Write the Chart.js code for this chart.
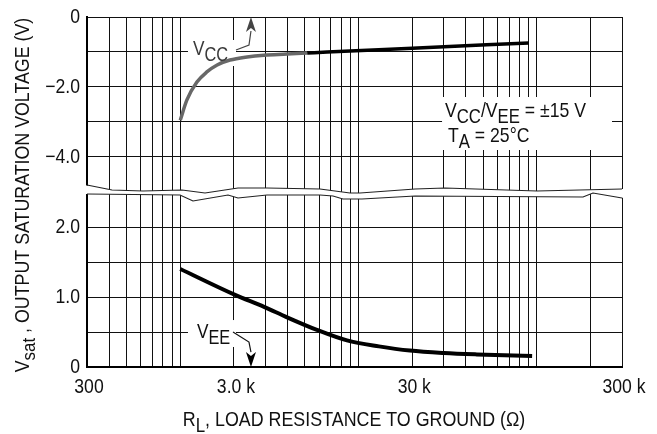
<!DOCTYPE html>
<html>
<head>
<meta charset="utf-8">
<script src="https://cdn.jsdelivr.net/npm/chart.js@4.4.1/dist/chart.umd.min.js"></script>
<style>
  html, body { margin: 0; padding: 0; background: #fff; }
  canvas { display: block; }
</style>
</head>
<body>
<canvas id="satChart" width="657" height="434"></canvas>
<script>
// values: load resistance (ohms) -> saturation voltage (V)
const vccLoad = [1000, 1090, 1240, 1410, 1610, 1900, 2370, 2950, 3970, 5150, 6660, 20000, 90000];
const vccSat  = [-2.95, -2.37, -1.86, -1.57, -1.37, -1.23, -1.14, -1.09, -1.06, -1.03, -1.0, -0.89, -0.74];
const veeLoad = [1000, 2030, 2950, 3970, 5840, 8610, 13000, 19400, 30100, 46000, 94000];
const veeSat  = [1.40, 1.03, 0.86, 0.71, 0.53, 0.38, 0.295, 0.235, 0.20, 0.18, 0.157];

// grid and tick labels
const xGrid = [300, 400, 500, 600, 700, 800, 900, 1000, 2000, 3000, 4000, 5000, 6000, 7000, 8000, 9000,
               10000, 20000, 30000, 40000, 50000, 60000, 70000, 80000, 90000, 100000, 200000, 300000];
const xTickAt   = [300, 2000, 20000, 300000];
const xTickText = ['300', '3.0 k', '30 k', '300 k'];
const topGrid     = [-4, -3, -2, -1, 0];
const topTickAt   = [0, -2, -4];
const topTickText = ['0', '\u22122.0', '\u22124.0'];
const botGrid     = [0, 0.5, 1, 1.5, 2];
const botTickAt   = [0, 1, 2];
const botTickText = ['0', '1.0', '2.0'];

const FONT = '"Liberation Sans", Arial, sans-serif';

// draws plain / subscript parts on a baseline, squeezed horizontally like the datasheet font
function rich(ctx, parts, x, y, size, sx) {
  ctx.save();
  ctx.translate(x, y);
  ctx.scale(sx, 1);
  let cx = 0;
  for (const p of parts) {
    ctx.font = (p[1] ? size * 0.95 : size) + 'px ' + FONT;
    ctx.fillText(p[0], cx, p[1] ? size * 0.3 : 0);
    cx += ctx.measureText(p[0]).width;
  }
  ctx.restore();
  return cx * sx;
}
function richWidth(ctx, parts, size, sx) {
  let w = 0;
  for (const p of parts) {
    ctx.font = (p[1] ? size * 0.95 : size) + 'px ' + FONT;
    w += ctx.measureText(p[0]).width;
  }
  return w * sx;
}

// break between the two panels (px offsets from plot left / panel seam)
const breakUpper = [[0,-5],[25,0],[56,1],[95,0],[118,3],[151,-2],[180,-2],[233,-1],[263,3],[273,3],[328,-1],[358,-2],[450,1],[535,-1]];
const breakLower = [[0,4],[93,5],[106,11],[141,5],[151,8],[180,5],[233,5],[246,6],[256,9],[275,9],[328,6],[496,7],[506,3],[535,8]];

const decor = {
  id: 'decor',
  beforeDatasetsDraw(chart) {
    const {ctx, chartArea: a, scales} = chart;
    const seam = scales.yTop.bottom;
    const L = a.left;
    ctx.save();
    ctx.fillStyle = '#fff';
    ctx.beginPath();
    breakUpper.forEach((p, i) => {
      const x = L + p[0] + (i === 0 ? -3 : 0) + (i === breakUpper.length - 1 ? 2 : 0);
      i ? ctx.lineTo(x, seam + p[1]) : ctx.moveTo(x, seam + p[1]);
    });
    for (let i = breakLower.length - 1; i >= 0; i--) {
      const p = breakLower[i];
      const x = L + p[0] + (i === 0 ? -3 : 0) + (i === breakLower.length - 1 ? 2 : 0);
      ctx.lineTo(x, seam + p[1]);
    }
    ctx.closePath();
    ctx.fill();
    ctx.strokeStyle = '#222';
    ctx.lineWidth = 1.2;
    [breakUpper, breakLower].forEach(line => {
      ctx.beginPath();
      line.forEach((p, i) => i ? ctx.lineTo(L + p[0], seam + p[1]) : ctx.moveTo(L + p[0], seam + p[1]));
      ctx.stroke();
    });

    // white label boxes
    const X = v => scales.x.getPixelForValue(v);
    const T = v => scales.yTop.getPixelForValue(v);
    const B = v => scales.yBot.getPixelForValue(v);
    ctx.fillRect(X(1105), T(-0.657), X(2054) - X(1105), T(-1.4) - T(-0.657));
    ctx.fillRect(X(1105), B(0.671), X(2054) - X(1105), B(0.286) - B(0.671));
    ctx.fillRect(X(29380), T(-2.286), X(263700) - X(29380), T(-3.8) - T(-2.286));
    ctx.restore();
  },
  afterDatasetsDraw(chart) {
    const {ctx, scales} = chart;
    const X = v => scales.x.getPixelForValue(v);
    const T = v => scales.yTop.getPixelForValue(v);
    const B = v => scales.yBot.getPixelForValue(v);
    ctx.save();
    ctx.textBaseline = 'alphabetic';

    // V_CC label and arrow
    ctx.fillStyle = '#3a3a3a';
    rich(ctx, [['V'], ['CC', 1]], X(1179), T(-1.086), 21, 0.82);
    ctx.strokeStyle = '#444';
    ctx.lineWidth = 1.2;
    ctx.beginPath();
    ctx.moveTo(X(2054), T(-0.943));
    ctx.lineTo(X(2429), T(-0.8));
    ctx.lineTo(X(2492), T(-0.4));
    ctx.stroke();
    arrow(ctx, X(2492), T(0), -1, '#444');

    // V_EE label and arrow
    ctx.fillStyle = '#111';
    rich(ctx, [['V'], ['EE', 1]], X(1241), B(0.414), 21, 0.82);
    ctx.strokeStyle = '#111';
    ctx.beginPath();
    ctx.moveTo(X(1976), B(0.5));
    ctx.lineTo(X(2429), B(0.357));
    ctx.lineTo(X(2492), B(0.214));
    ctx.stroke();
    arrow(ctx, X(2492), B(0), 1, '#000');

    // conditions
    ctx.fillStyle = '#111';
    rich(ctx, [['V'], ['CC', 1], ['/V'], ['EE', 1], [' = \u00b115 V']], X(30520), T(-2.857), 21, 0.84);
    rich(ctx, [['T'], ['A', 1], [' = 25\u00b0C']], X(31730), T(-3.571), 21, 0.84);
    ctx.restore();
  },
  afterDraw(chart) {
    const {ctx, chartArea: a, scales} = chart;
    ctx.save();
    ctx.fillStyle = '#111';

    // tick labels
    ctx.textBaseline = 'middle';
    const tick = (txt, cx, cy, align) => {
      const w = richWidth(ctx, [[txt]], 20, 0.88);
      const x0 = align === 'right' ? cx - w : cx - w / 2;
      rich(ctx, [[txt]], x0, cy, 20, 0.88);
    };
    xTickAt.forEach((v, i) => tick(xTickText[i], scales.x.getPixelForValue(v) + 2, a.bottom + 20, 'center'));
    topTickAt.forEach((v, i) => tick(topTickText[i], a.left - 7, scales.yTop.getPixelForValue(v), 'right'));
    botTickAt.forEach((v, i) => tick(botTickText[i], a.left - 7, scales.yBot.getPixelForValue(v), 'right'));

    // axis titles
    ctx.textBaseline = 'alphabetic';
    const xt = [['R'], ['L', 1], [', LOAD RESISTANCE TO GROUND (\u03a9)']];
    const wx = richWidth(ctx, xt, 21, 0.85);
    rich(ctx, xt, 354 - wx / 2, 426, 21, 0.85);

    const yt = [['V'], ['sat', 1], [' , OUTPUT SATURATION VOLTAGE (V)']];
    const wy = richWidth(ctx, yt, 20, 0.89);
    ctx.translate(29, 195);
    ctx.rotate(-Math.PI / 2);
    rich(ctx, yt, -wy / 2, 0, 20, 0.89);
    ctx.restore();
  }
};

// filled arrow head; dir -1 points up, 1 points down
function arrow(ctx, x, tipY, dir, color) {
  ctx.fillStyle = color;
  ctx.beginPath();
  ctx.moveTo(x, tipY);
  ctx.lineTo(x - 5, tipY - dir * 15);
  ctx.lineTo(x, tipY - dir * 11);
  ctx.lineTo(x + 5, tipY - dir * 15);
  ctx.closePath();
  ctx.fill();
}

const gridStyle = { color: '#111', lineWidth: 1, drawTicks: false };

new Chart(document.getElementById('satChart'), {
  type: 'line',
  data: {
    datasets: [{
      label: 'VCC',
      yAxisID: 'yTop',
      data: vccLoad.map((r, i) => ({ x: r, y: vccSat[i] })),
      borderColor: '#000',
      borderWidth: 3.5,
      segment: { borderColor: c => c.p1.parsed.x <= 5200 ? '#686868' : '#000' },
      cubicInterpolationMode: 'monotone',
      pointRadius: 0,
      fill: false
    }, {
      label: 'VEE',
      yAxisID: 'yBot',
      data: veeLoad.map((r, i) => ({ x: r, y: veeSat[i] })),
      borderColor: '#000',
      borderWidth: 4,
      cubicInterpolationMode: 'monotone',
      pointRadius: 0,
      fill: false
    }]
  },
  options: {
    responsive: false,
    animation: false,
    devicePixelRatio: 1,
    layout: { padding: { top: 17, right: 35, left: 0, bottom: 0 } },
    plugins: { legend: { display: false }, tooltip: { enabled: false } },
    scales: {
      x: {
        type: 'logarithmic',
        min: 300,
        max: 300000,
        afterBuildTicks: s => { s.ticks = xGrid.map(v => ({ value: v })); },
        afterFit: s => { s.height = 67; },
        grid: gridStyle,
        border: { color: '#000', width: 2 },
        ticks: { display: false }
      },
      yBot: {
        type: 'linear',
        position: 'left',
        stack: 'vsat',
        stackWeight: 177,
        min: 0,
        max: 2.529,
        afterBuildTicks: s => { s.ticks = botGrid.map(v => ({ value: v })); },
        afterFit: s => { s.width = 87; },
        grid: gridStyle,
        border: { color: '#000', width: 2 },
        ticks: { display: false }
      },
      yTop: {
        type: 'linear',
        position: 'left',
        stack: 'vsat',
        stackWeight: 173,
        min: -4.943,
        max: 0,
        afterBuildTicks: s => { s.ticks = topGrid.map(v => ({ value: v })); },
        afterFit: s => { s.width = 87; },
        grid: gridStyle,
        border: { color: '#000', width: 2 },
        ticks: { display: false }
      }
    }
  },
  plugins: [decor]
});
</script>
</body>
</html>
